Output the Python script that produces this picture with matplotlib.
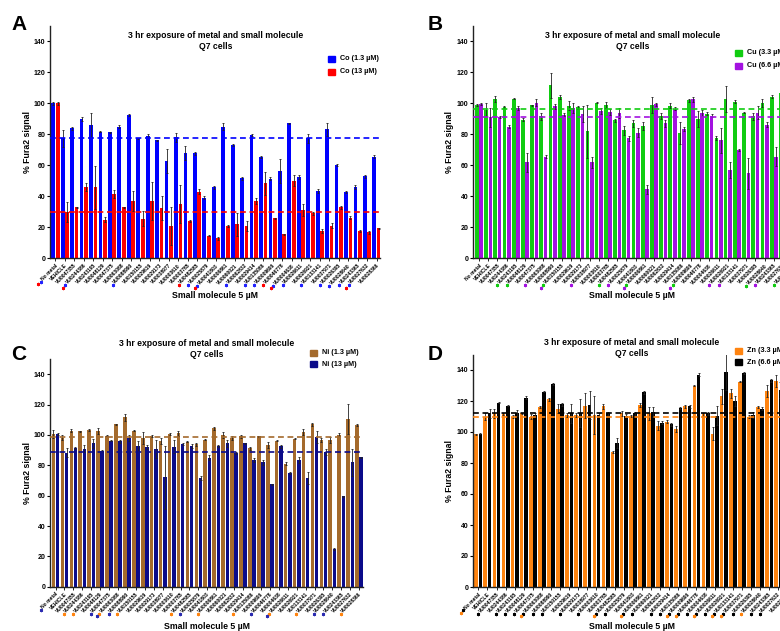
import numpy as np
import matplotlib
matplotlib.use("Agg")
import matplotlib.pyplot as plt
from matplotlib.patches import Rectangle
from matplotlib.lines import Line2D
from matplotlib.transforms import IdentityTransform

plt.rcParams["font.family"] = ["Liberation Sans", "DejaVu Sans"]
plt.rcParams["font.weight"] = "bold"

categories = ["No metal", "VEHICLE", "VU0047355", "VU0244386", "VU0243195", "VU0048129",
              "VU0047375", "VU0063088", "VU0088990", "VU0150155", "VU0029619", "VU0029173",
              "VU0038977", "VU0003610", "VU0003785", "VU0482585", "VU0025879", "VU0041803",
              "VU0006861", "VU0060021", "VU0062832", "VU0029414", "VU0135086", "VU0009696",
              "VU0046778", "VU0004638", "VU0026611", "VU0026921", "VU0133141", "VU0037971",
              "VU0026395", "VU0028640", "VU0243365", "VU0027632", "VU0028366"]

# panel A - cobalt
co_low = [100, 77.5, 83.8, 89.9, 86, 81.7, 81.3, 85, 92.5, 77.4, 78.9, 76.1, 62.8, 78, 68.2,
          67.7, 39.1, 45.8, 85, 73.1, 51.6, 79.4, 65.4, 51.2, 56.3, 87.1, 52.5, 77.4, 43.4,
          83.2, 60.2, 42.8, 46, 52.9, 65.6]
co_low_err = [0.8, 5.4, 1.2, 1.2, 8, 0.5, 0.5, 1, 0.6, 0.4, 1.5, 0.4, 8, 3, 4.5, 0.8, 1, 0.8,
              2.5, 0.6, 1, 0.6, 0.6, 1, 7.5, 0.5, 1.5, 3, 1.5, 4, 0.5, 0.4, 1, 1, 0.8]
co_high = [100, 30.1, 32.9, 45.8, 45.8, 25, 41.3, 32.9, 37.2, 25.6, 37, 32.5, 20.9, 35, 24.1,
           43, 14.6, 12.9, 20.9, 22, 20.9, 37, 48.4, 25.8, 15.5, 50.1, 31, 29, 17.6, 21.1,
           32.9, 26.2, 17.6, 16.8, 19.4]
co_high_err = [1, 6.5, 0.3, 2.5, 14, 1.8, 2.5, 0.5, 6.5, 5, 12, 7.5, 12, 12, 0.6, 1.8, 0.4, 1,
               0.8, 7.5, 3, 1.8, 7.5, 0.3, 0.5, 3.5, 4, 0.8, 1.5, 1.5, 1, 1, 0.5, 1, 0.3]
co_mean = [77.4, 30.1]

# panel B - copper
cu_low = [99, 96, 103, 97.5, 103, 89.5, 98.6, 91.5, 111.5, 104, 98.5, 97.5, 82, 100.5, 99,
          89, 82.5, 87, 85.5, 99, 92, 98.5, 81, 102, 89.8, 93.2, 77.7, 102.6, 100.9, 94,
          91.5, 100, 104.3, 106.4, 100]
cu_low_err = [0.5, 4, 2, 0.5, 0.5, 1, 0.5, 2, 8, 1.5, 3, 1, 17, 0.5, 2, 1, 3, 2, 2.5, 5, 2,
              1.5, 7, 1, 5, 1, 1.5, 8.5, 1, 0.5, 2, 2.5, 1, 7, 2]
cu_high = [99.6, 91, 91, 85, 97, 62, 100.5, 65.5, 98, 92.5, 97, 93, 62, 95, 94.5, 93.8, 77.5,
           81, 44.5, 99.5, 87, 96.5, 83.5, 102.5, 93.6, 92.1, 76.2, 57, 69.8, 55, 94, 86.2,
           65.5, 95, 95]
cu_high_err = [0.5, 6, 0.5, 1, 1.5, 6, 2, 1, 1.5, 1, 3, 5, 3.5, 2, 2, 3, 1.5, 3, 3, 1, 2, 1,
               1.5, 1.5, 2, 1, 8, 5, 0.5, 10, 4, 1.5, 6, 3, 2]
cu_mean = [96.2, 91.1]

# panel C - nickel
ni_low = [100.7, 98.2, 102.9, 102.4, 103.3, 102.4, 99.6, 107, 111.6, 102.9, 98.2, 99.3, 96.3,
          100.5, 101, 95.6, 94, 97, 104.5, 100, 98, 99.3, 91.2, 99, 93.4, 96.3, 81, 97.6,
          102.2, 107, 96.7, 96.7, 100, 110.5, 106.4]
ni_low_err = [2.5, 1.5, 1, 0.5, 0.5, 2, 0.5, 0.5, 2.5, 0.5, 4, 0.5, 2, 0.5, 1.5, 0.5, 1, 0.5,
              1, 2, 1, 1, 1, 0.5, 2, 0.5, 1, 0.5, 2, 1, 1.5, 2, 1, 10, 0.8]
ni_high = [100.7, 88.4, 91.4, 91, 94.5, 89.5, 96.3, 95.8, 97.8, 92.7, 92.1, 90.5, 72, 92.3, 94,
           92.7, 71.5, 85, 92.7, 94.5, 88, 94.5, 83.5, 82, 67.5, 92.7, 75, 83.5, 71.5, 98.9,
           89, 25, 59.5, 82, 85.3]
ni_high_err = [0.5, 3, 0.5, 2.5, 3, 0.5, 0.5, 1, 2, 3, 1.5, 6, 21, 4.5, 0.5, 1.5, 1.5, 1.5,
               0.5, 2.5, 0.5, 0.5, 1, 1.5, 0.5, 1, 0.5, 2, 4, 4, 2, 0.5, 0.5, 9, 0.5]
ni_mean = [98.7, 88.6]

# panel D - zinc
zn_low = [98.5, 110, 112, 111.5, 110, 112, 110, 116, 121, 115, 111, 111, 117, 111, 116.5, 87,
          112, 110.5, 117.5, 112, 104, 106.5, 102, 116.5, 130, 111.5, 99, 123, 125, 132.5,
          110, 116, 126.5, 133, 120]
zn_low_err = [0.5, 2.5, 3, 0.5, 1, 0.5, 1.5, 0.5, 1, 3, 1, 1, 8, 12, 1.5, 0.5, 1.5, 0.5, 1.5,
              4, 3, 1, 2, 1, 0.5, 1, 4, 5, 3, 0.5, 1, 0.5, 4, 4, 1]
zn_high = [99, 112, 119, 117, 112.5, 122, 111, 126, 131, 118, 112, 112, 117.5, 111, 112, 93,
           110.5, 112, 125.5, 113, 106, 105, 115.5, 116.5, 137, 112, 110.5, 139, 120, 138,
           111, 115, 133.5, 127, 120]
zn_high_err = [0.5, 3, 0.5, 0.5, 2, 1, 1, 0.5, 0.5, 1, 6, 9, 9, 1, 1, 3, 1, 1, 1, 3, 1, 1,
               0.5, 1, 1, 1, 6, 12, 3, 0.5, 2, 1, 1, 5, 1]
zn_mean = [110.0, 112.3]

# significance asterisks below labels: category number -> colours (outer first)
stars_a = {1: "rb", 4: "rb", 9: "b", 16: "r", 17: "b", 18: "rb", 21: "b", 23: "b", 24: "b",
           25: "r", 26: "rb", 27: "b", 29: "b", 31: "b", 32: "b", 33: "b", 34: "rb"}
stars_b = {5: "g", 6: "g", 8: "p", 10: "pg", 13: "p", 16: "g", 17: "p", 19: "pg", 24: "pg",
           28: "p", 29: "p", 32: "g", 33: "p", 35: "g"}
stars_c = {1: "b", 4: "o", 5: "o", 7: "b", 8: "bo", 9: "b", 10: "o", 16: "o", 17: "b",
           19: "o", 23: "o", 25: "b", 27: "bo", 30: "o", 32: "b", 33: "b", 35: "o"}
stars_d = {1: "ok", 3: "k", 5: "k", 6: "k", 7: "k", 8: "ok", 9: "k", 10: "k", 12: "k",
           14: "k", 16: "ok", 17: "k", 19: "ok", 20: "k", 22: "k", 23: "k", 24: "ok",
           25: "ok", 26: "k", 27: "ok", 28: "k", 29: "ok", 30: "ok", 31: "k", 32: "o",
           33: "k", 34: "k"}

W, H = 780, 631
fig = plt.figure(figsize=(W / 100, H / 100), dpi=100)

TITLE = "3 hr exposure of metal and small molecule\nQ7 cells"


def fx(x):
    return x / W


def fy(y):
    return 1 - y / H


def panel(left, right, top, bottom, xlo, xhi, v1, e1, v2, e2, c1, c2, means, ec2="#222222"):
    ax = fig.add_axes([fx(left), fy(bottom), (right - left) / W, (bottom - top) / H])
    x = np.arange(len(categories))
    off, w = 0.235, 0.4
    ax.bar(x - off, v1, w, color=c1, yerr=e1,
           error_kw=dict(ecolor="#222222", elinewidth=0.6, capsize=1.0, capthick=0.6), zorder=2)
    ax.bar(x + off, v2, w, color=c2, yerr=e2,
           error_kw=dict(ecolor=ec2, elinewidth=0.6, capsize=1.0, capthick=0.6), zorder=2)
    ax.axhline(means[0], color=c1, ls=(0, (3.5, 2.2)), lw=1.2, zorder=3)
    ax.axhline(means[1], color=c2, ls=(0, (3.5, 2.2)), lw=1.2, zorder=3)
    ax.set_ylim(0, 150)
    ax.set_xlim(xlo, xhi)
    ax.set_yticks(np.arange(0, 141, 20))
    ax.set_xticks(x)
    ax.set_xticklabels(categories, rotation=45, ha="right", va="top",
                       rotation_mode="anchor", fontsize=3.6, fontweight="bold")
    ax.tick_params(axis="y", labelsize=5, length=2.2, width=0.8, pad=1)
    ax.tick_params(axis="x", length=1.8, width=0.6, pad=1.5)
    for lab in ax.get_yticklabels():
        lab.set_fontweight("bold")
    for s in ["top", "right"]:
        ax.spines[s].set_visible(False)
    for s in ["left", "bottom"]:
        ax.spines[s].set_linewidth(1.0)
        ax.spines[s].set_color("#222222")
    return ax


def legend(x, ys, colors, texts):
    for y, c, t in zip(ys, colors, texts):
        fig.add_artist(Rectangle((fx(x), fy(y + 3)), 7 / W, 6 / H, color=c,
                                 transform=fig.transFigure))
        fig.text(fx(x + 12), fy(y), t, fontsize=5.2, fontweight="bold", va="center", ha="left")


def labels(letter, lx, ly, tx, ty1, ylx, yly, xlx, xly):
    fig.text(fx(lx), fy(ly), letter, fontsize=15, fontweight="bold", ha="center", va="center")
    fig.text(fx(tx), fy(ty1), TITLE, fontsize=6.2, fontweight="bold", ha="center", va="top",
             linespacing=1.25)
    fig.text(fx(ylx), fy(yly), "% Fura2 signal", fontsize=6.3, fontweight="bold",
             rotation=90, ha="center", va="center")
    fig.text(fx(xlx), fy(xly), "Small molecule 5 µM", fontsize=6.3, fontweight="bold",
             ha="center", va="center")


ax_a = panel(50, 380, 25.8, 258.3, -0.58, 34.37, co_low, co_low_err, co_high, co_high_err,
             "#0000ff", "#ff0000", co_mean)
ax_b = panel(472.7, 796, 25.8, 258.3, -0.68, 34.4, cu_low, cu_low_err, cu_high, cu_high_err,
             "#11cc11", "#a312e0", cu_mean)
ax_c = panel(50, 363, 359.1, 586.7, -0.62, 34.43, ni_low, ni_low_err, ni_high, ni_high_err,
             "#a46a2c", "#0b0b8a", ni_mean)
ax_d = panel(472.7, 791, 354.5, 587, -0.62, 34.4, zn_low, zn_low_err, zn_high, zn_high_err,
             "#ff8410", "#000000", zn_mean)

labels("A", 19.5, 25, 216, 31, 27, 142, 215, 295.5)
labels("B", 435, 25, 632.5, 31, 450, 142, 632, 295)
labels("C", 18.5, 355, 206.7, 339, 27, 473, 207, 626.5)
labels("D", 435, 355, 632, 338, 450, 471, 632, 626.5)

legend(328.3, [58.5, 71.7], ["#0000ff", "#ff0000"], ["Co (1.3 µM)", "Co (13 µM)"])
legend(735, [52.7, 65.7], ["#11cc11", "#a312e0"], ["Cu (3.3 µM)", "Cu (6.6 µM)"])
legend(310, [352.7, 364.3], ["#a46a2c", "#0b0b8a"], ["Ni (1.3 µM)", "Ni (13 µM)"])
legend(735, [350.7, 362.3], ["#ff8410", "#000000"], ["Zn (3.3 µM)", "Zn (6.6 µM)"])

# asterisks in front of the rotated tick labels
fig.canvas.draw()
renderer = fig.canvas.get_renderer()
star_colors = {"r": "#ff0000", "b": "#2222ff", "g": "#11cc11", "p": "#a312e0",
               "o": "#ff8410", "k": "#000000"}


def add_stars(ax, marks, navy=False):
    labs = ax.get_xticklabels()
    for cat, cols in marks.items():
        bb = labs[cat - 1].get_window_extent(renderer)
        for j, c in enumerate(reversed(cols)):
            d = 1.5 + 3.2 * j
            x0 = bb.x0 + 1.2 - d * 0.707
            y0 = bb.y0 + 0.8 - d * 0.707
            col = star_colors[c]
            if navy and c == "b":
                col = "#2a2ab0"
            fig.add_artist(Line2D([x0], [y0], marker=(6, 2, 0), ms=2.4, mew=0.6,
                                  color=col, transform=IdentityTransform()))


add_stars(ax_a, stars_a)
add_stars(ax_b, stars_b)
add_stars(ax_c, stars_c, navy=True)
add_stars(ax_d, stars_d)

fig.savefig("out.png", dpi=100)
